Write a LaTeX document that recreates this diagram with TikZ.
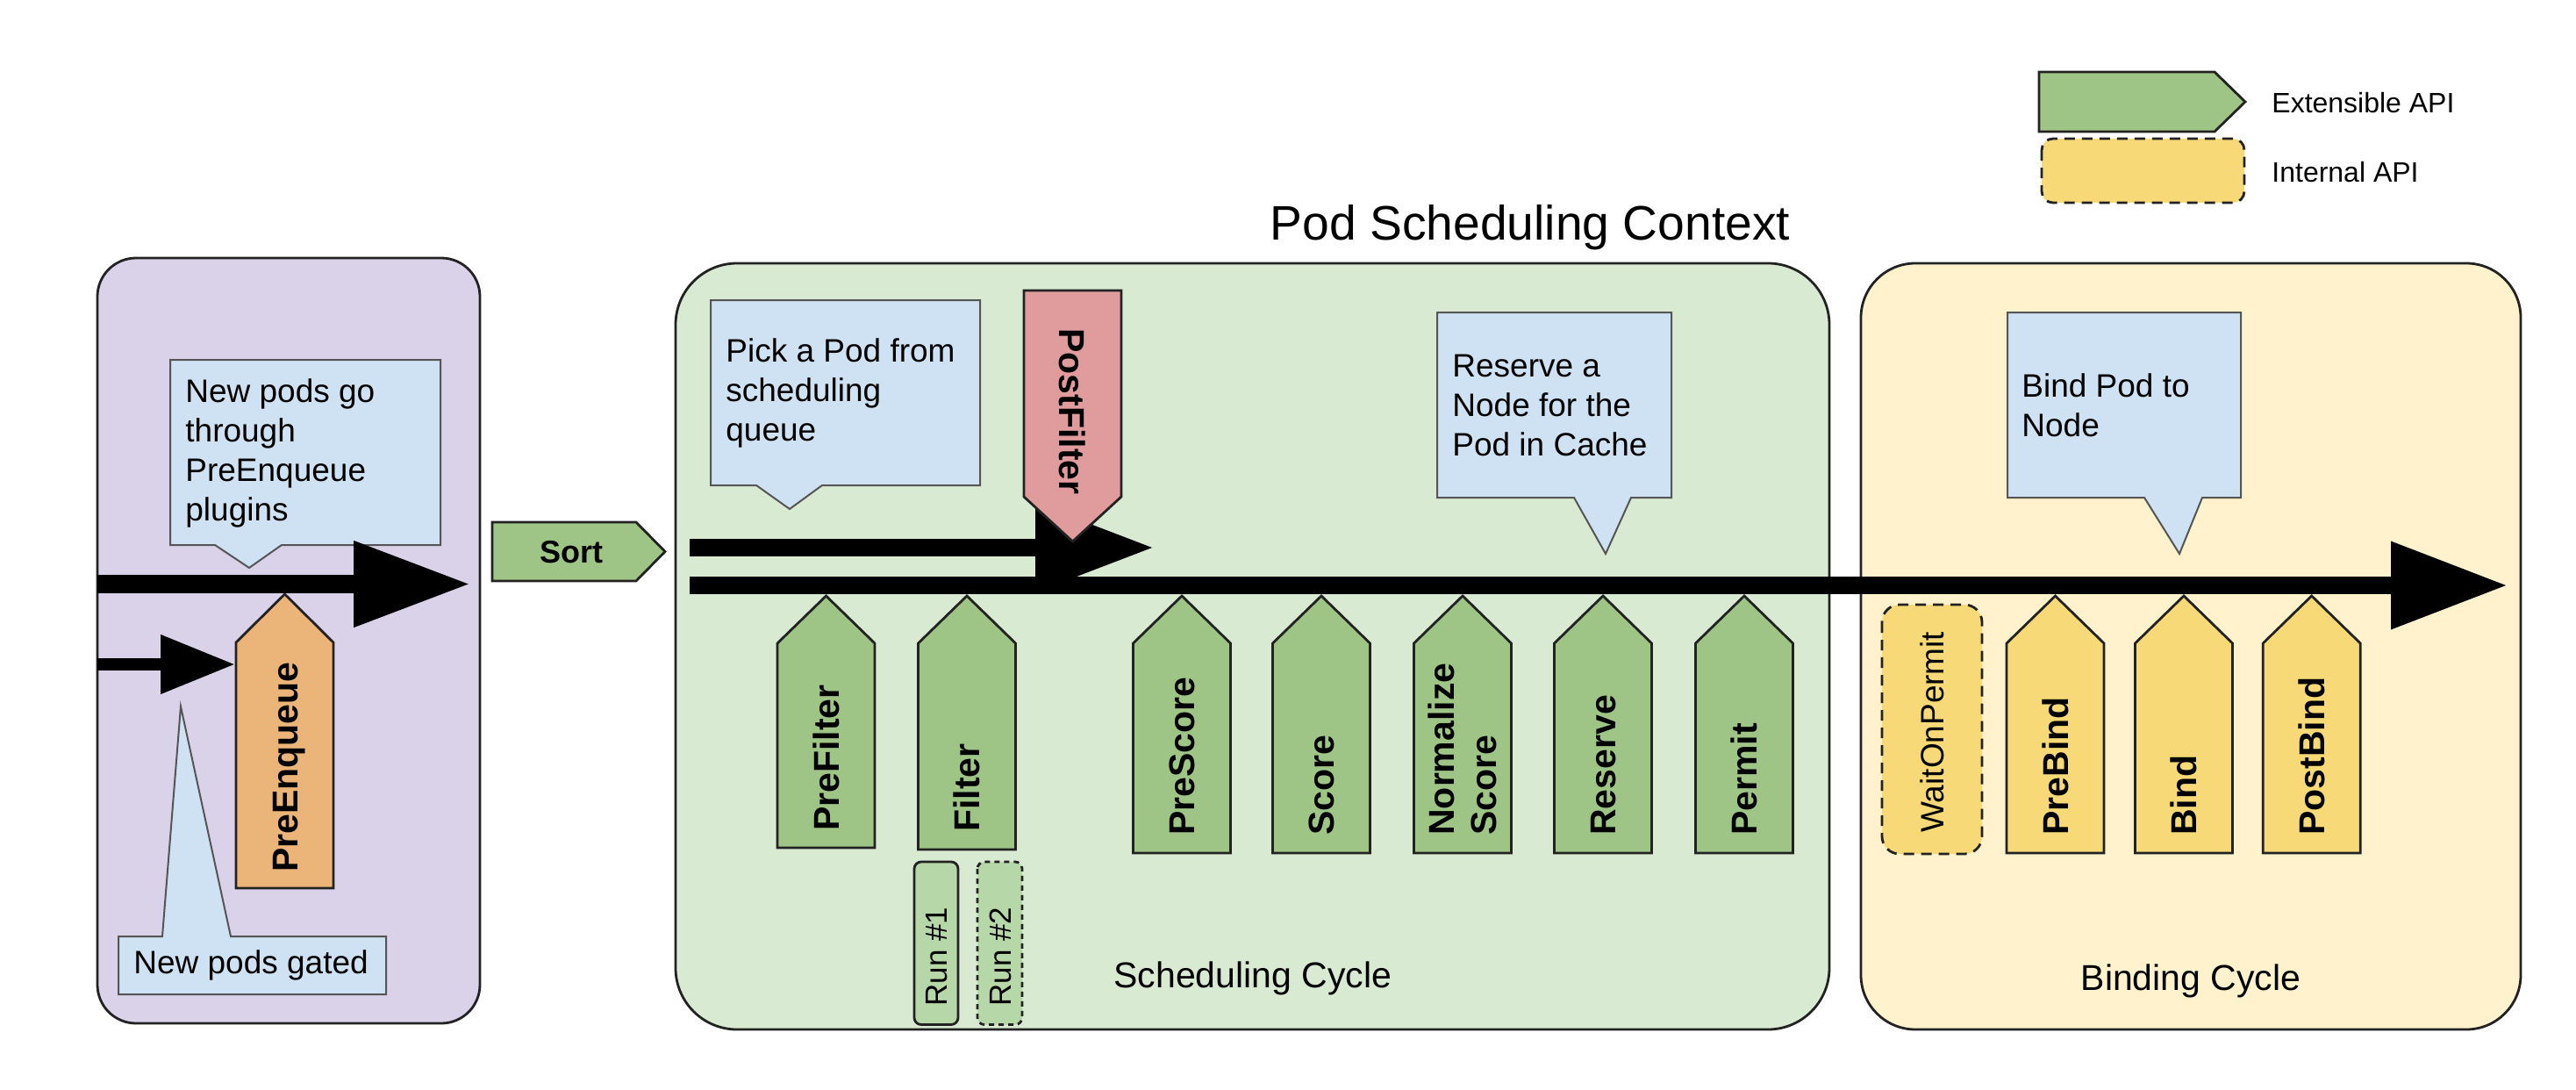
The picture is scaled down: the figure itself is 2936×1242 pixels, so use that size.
\documentclass[tikz,border=0pt]{standalone}
\usepackage{fontspec}
\setmainfont{Liberation Sans}
\usetikzlibrary{arrows.meta}

\definecolor{queuepurple}{HTML}{D9D2E9}
\definecolor{schedgreen}{HTML}{D9EAD3}
\definecolor{bindyellow}{HTML}{FFF2CC}
\definecolor{noteblue}{HTML}{CFE2F3}
\definecolor{extgreen}{HTML}{9EC486}
\definecolor{rungreen}{HTML}{B6D7A8}
\definecolor{gateorange}{HTML}{EBB478}
\definecolor{postred}{HTML}{E09C9C}
\definecolor{bindgold}{HTML}{F7D978}
\definecolor{edgegray}{HTML}{222222}
\definecolor{notegray}{HTML}{555555}

\newcommand{\fnote}{\fontsize{18.5pt}{22.5pt}\selectfont}
\newcommand{\fplug}{\fontsize{20.5pt}{24pt}\selectfont\bfseries}
\newcommand{\fsort}{\fontsize{18pt}{22pt}\selectfont\bfseries}
\newcommand{\frun}{\fontsize{17.5pt}{21pt}\selectfont}
\newcommand{\fcycle}{\fontsize{20.5pt}{24pt}\selectfont}
\newcommand{\ftitle}{\fontsize{27.6pt}{33pt}\selectfont}
\newcommand{\flegend}{\fontsize{16pt}{19pt}\selectfont}

\tikzset{
  cyclebox/.style={draw=edgegray, line width=1.4pt},
  callout/.style={draw=notegray, fill=noteblue, line width=1pt, line join=miter},
  notetext/.style={anchor=west, inner sep=0pt, align=left, font=\fnote},
  plugin/.style={draw=edgegray, line width=1.4pt, line join=miter},
  internal/.style={draw=edgegray, line width=1.4pt, dash pattern=on 6pt off 4pt},
  pluglabel/.style={rotate=90, anchor=west, inner sep=0pt, font=\fplug,
                    text height=14.7pt, text depth=0pt},
  flow/.style={draw=black, line cap=butt},
}

% an upward pentagon plugin with its label set from the bottom
% #1 name, #2 centre x, #3 bottom y, #4 fill, #5 label start y, #6 label
\newcommand{\upplug}[6]{%
  \draw[plugin, fill=#4] (#2-55.5,#3) -- (#2-55.5,733) -- (#2,679)
        -- (#2+55.5,733) -- (#2+55.5,#3) -- cycle;
  \node[pluglabel] (#1) at (#2,#5) {#6};
}

\begin{document}
\begin{tikzpicture}[x=0.5pt, y=-0.5pt]
  \useasboundingbox (0,0) rectangle (2936,1242);
  \fill[white] (0,0) rectangle (2936,1242);

  % stage containers
  \draw[cyclebox, fill=queuepurple, rounded corners=22pt] (111,294) rectangle (547,1166);
  \draw[cyclebox, fill=schedgreen, rounded corners=35pt] (770,300) rectangle (2085,1173);
  \draw[cyclebox, fill=bindyellow, rounded corners=31pt] (2121,300) rectangle (2873,1173);

  \node[anchor=base, font=\ftitle] (title) at (1744,273) {Pod Scheduling Context};
  \node[anchor=base west, inner sep=0pt, font=\fcycle] (schedCycle) at (1269,1125) {Scheduling Cycle};
  \node[anchor=base, inner sep=0pt, font=\fcycle] (bindCycle) at (2497,1128) {Binding Cycle};

  % legend
  \draw[plugin, fill=extgreen] (2324,82) -- (2524,82) -- (2559,116) -- (2524,150) -- (2324,150) -- cycle;
  \draw[internal, fill=bindgold, rounded corners=6.5pt] (2327,158) rectangle (2558,231);
  \node[anchor=base west, inner sep=0pt, font=\flegend] (legExt) at (2589,128.5) {Extensible API};
  \node[anchor=base west, inner sep=0pt, font=\flegend] (legInt) at (2589,207.5) {Internal API};

  % speech-bubble notes
  \draw[callout] (194,410) -- (502,410) -- (502,621) -- (321,621) -- (284,647) -- (245,621) -- (194,621) -- cycle;
  \node[notetext] (noteQueue) at (211,516) {New pods go\\through\\PreEnqueue\\plugins};

  \draw[callout] (135,1067) -- (185,1067) -- (206,805) -- (263,1067) -- (440,1067) -- (440,1133) -- (135,1133) -- cycle;
  \node[notetext] (noteGated) at (152,1100) {New pods gated};

  \draw[callout] (810,342) -- (1117,342) -- (1117,553) -- (937,553) -- (900,580) -- (862,553) -- (810,553) -- cycle;
  \node[notetext] (notePick) at (827,448) {Pick a Pod from\\scheduling\\queue};

  \draw[callout] (1638,356) -- (1905,356) -- (1905,567) -- (1859,567) -- (1830,631) -- (1794,567) -- (1638,567) -- cycle;
  \node[notetext] (noteReserve) at (1655,462) {Reserve a\\Node for the\\Pod in Cache};

  \draw[callout] (2288,356) -- (2554,356) -- (2554,567) -- (2510,567) -- (2484,631) -- (2444,567) -- (2288,567) -- cycle;
  \node[notetext] (noteBind) at (2304,462) {Bind Pod to\\Node};

  % flow arrows
  \coordinate (queueIn) at (111,665.5);
  \coordinate (queueOut) at (536,665.5);
  \coordinate (gatedIn) at (111,757);
  \coordinate (gatedOut) at (268,757);
  \coordinate (retryIn) at (786,624);
  \coordinate (retryOut) at (1315,624);
  \coordinate (cycleIn) at (786,667);
  \coordinate (cycleOut) at (2858,667);
  \draw[flow, line width=10.5pt, -{Triangle[length=66.5pt,width=46.5pt]}] (queueIn) -- (queueOut);
  \draw[flow, line width=7pt, -{Triangle[length=42.5pt,width=32pt]}] (gatedIn) -- (gatedOut);
  \draw[flow, line width=10pt, -{Triangle[length=67.5pt,width=48pt]}] (retryIn) -- (retryOut);
  \draw[flow, line width=10pt, -{Triangle[length=66.5pt,width=47.5pt]}] (cycleIn) -- (cycleOut);

  % queueing plugins
  \draw[plugin, fill=gateorange] (269,1012) -- (269,732) -- (324.5,677) -- (380,732) -- (380,1012) -- cycle;
  \node[pluglabel] (preEnqueue) at (324.5,994) {PreEnqueue};

  \draw[plugin, fill=extgreen] (561,595) -- (725,595) -- (758,628.5) -- (725,662) -- (561,662) -- cycle;
  \node[anchor=base, inner sep=0pt, font=\fsort] (sort) at (651,641.5) {Sort};

  % scheduling cycle plugins
  \draw[plugin, fill=postred] (1167,331) -- (1278,331) -- (1278,566) -- (1222.5,617) -- (1167,566) -- cycle;
  \node[pluglabel, rotate=-180] (postFilter) at (1222.5,374) {PostFilter};

  \upplug{preFilter}{941.5}{966}{extgreen}{947}{PreFilter}
  \upplug{filter}{1102}{968}{extgreen}{948}{Filter}
  \upplug{preScore}{1347}{972}{extgreen}{952}{PreScore}
  \upplug{score}{1506}{972}{extgreen}{952}{Score}
  \draw[plugin, fill=extgreen] (1611.5,972) -- (1611.5,733) -- (1667,679) -- (1722.5,733) -- (1722.5,972) -- cycle;
  \node[rotate=90, anchor=west, inner sep=0pt, align=left, font=\fplug] (normScore) at (1667,952) {Normalize\\Score};
  \upplug{reserve}{1827}{972}{extgreen}{952}{Reserve}
  \upplug{permit}{1988}{972}{extgreen}{952}{Permit}

  % filter runs
  \draw[plugin, fill=rungreen, rounded corners=4pt] (1042,982) rectangle (1092,1167.5);
  \node[rotate=90, anchor=west, inner sep=0pt, font=\frun, text height=12.5pt, text depth=0pt] (run1) at (1067,1147) {Run \#1};
  \draw[plugin, fill=rungreen, rounded corners=4pt, dash pattern=on 3pt off 2.5pt] (1114,982) rectangle (1165,1167.5);
  \node[rotate=90, anchor=west, inner sep=0pt, font=\frun, text height=12.5pt, text depth=0pt] (run2) at (1139.5,1147) {Run \#2};

  % binding cycle plugins
  \draw[internal, fill=bindgold, rounded corners=10pt] (2145,689) rectangle (2259,973);
  \node[rotate=90, anchor=west, inner sep=0pt, font=\fnote, text height=13.2pt, text depth=0pt] (waitOnPermit) at (2202,949) {WaitOnPermit};
  \upplug{preBind}{2342.5}{972}{bindgold}{952}{PreBind}
  \upplug{bind}{2489}{972}{bindgold}{952}{Bind}
  \upplug{postBind}{2634.7}{972}{bindgold}{952}{PostBind}
\end{tikzpicture}
\end{document}
